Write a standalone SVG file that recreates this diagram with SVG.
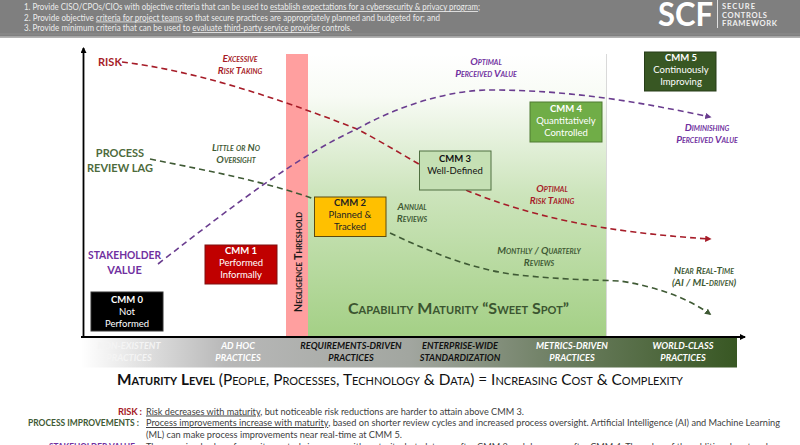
<svg xmlns="http://www.w3.org/2000/svg" width="800" height="445" viewBox="0 0 800 445">
<style>
text{font-family:"Lato","Carlito","Open Sans",sans-serif}
.hd{font-size:8.6px;fill:#ececec}
.box{stroke-width:1}
.cm{font-size:9.500px;text-anchor:middle}
.cb{font-weight:700}
.sc{font-style:italic;font-weight:700;font-variant:small-caps;font-size:10px;text-anchor:middle}
.lab{font-weight:700;font-size:11px;text-anchor:middle}
.band{font-style:italic;font-weight:700;font-size:9.200px;text-anchor:middle}
.c{fill:none;stroke-width:1.6;stroke-dasharray:6 4}
.bt{font-size:9.800px;fill:#404040}
.bl{font-size:9.400px;font-weight:700}
.lg{font-size:7.600px;font-weight:700;fill:#f0f0f0}
</style>
<defs>
<linearGradient id="sw" x1="0" y1="0" x2="0" y2="1"><stop offset="0" stop-color="#fff"/><stop offset="0.15" stop-color="#f8fbf5"/><stop offset="0.5" stop-color="#cce4bb"/><stop offset="1" stop-color="#a4d086"/></linearGradient>
<linearGradient id="bd" x1="0" y1="0" x2="1" y2="0"><stop offset="0" stop-color="#fff"/><stop offset="0.22" stop-color="#b8b8b8"/><stop offset="0.5" stop-color="#a2a6a0"/><stop offset="0.72" stop-color="#6f8064"/><stop offset="1" stop-color="#385723"/></linearGradient>
<marker id="ar" markerWidth="4" markerHeight="4" refX="3" refY="2" orient="auto"><path d="M0 0L4 2L0 4Z" fill="context-stroke"/></marker>
<marker id="ax" markerWidth="7" markerHeight="7" refX="5" refY="3" orient="auto" markerUnits="userSpaceOnUse"><path d="M0 0L6 3L0 6Z" fill="#000"/></marker>
</defs>
<rect width="800" height="445" fill="#fff"/>
<g id="header">
<rect width="800" height="37.500" fill="#7f7f7f"/><rect y="33.500" width="800" height="1" fill="#8e8e8e"/><rect y="36" width="800" height="1.500" fill="#a6a6a6"/>
<text class="hd" x="24" y="10" textLength="456" lengthAdjust="spacingAndGlyphs">1. Provide CISO/CPOs/CIOs with objective criteria that can be used to <tspan text-decoration="underline">establish expectations for a cybersecurity &amp; privacy program</tspan>;</text>
<text class="hd" x="24" y="20.500" textLength="416" lengthAdjust="spacingAndGlyphs">2. Provide objective <tspan text-decoration="underline">criteria for project teams</tspan> so that secure practices are appropriately planned and budgeted for; and</text>
<text class="hd" x="24" y="31" textLength="328" lengthAdjust="spacingAndGlyphs">3. Provide minimum criteria that can be used to <tspan text-decoration="underline">evaluate third-party service provider</tspan> controls.</text>
<text x="658" y="26" font-size="32" font-weight="700" fill="#fff" textLength="55" lengthAdjust="spacingAndGlyphs">SCF</text>
<rect x="717" y="0" width="1" height="28" fill="#e0e0e0"/>
<text class="lg" x="722" y="9" textLength="33">SECURE</text>
<text class="lg" x="722" y="17.500" textLength="45">CONTROLS</text>
<text class="lg" x="722" y="25.500" textLength="55">FRAMEWORK</text>
</g>
<g id="zones">
<rect x="308" y="54" width="298" height="282" fill="url(#sw)"/>
<rect x="286" y="54" width="22" height="282" fill="#ff9f9f"/>
<rect x="606" y="54" width="1" height="282" fill="#d9d9d9"/>
<text transform="translate(301.500 312) rotate(-90)" font-size="11" font-weight="700" font-variant="small-caps" fill="#1a1a1a" textLength="100" lengthAdjust="spacingAndGlyphs">Negligence Threshold</text>
<text x="348" y="314" font-size="16" font-weight="700" font-variant="small-caps" fill="#3b5530" textLength="221" lengthAdjust="spacingAndGlyphs">Capability Maturity “Sweet Spot”</text>
</g>
<g id="band">
<rect x="81" y="338" width="656" height="29.500" fill="url(#bd)"/>
<text class="band" fill="#f4f4f4"><tspan x="129" y="348.500">NON-EXISTENT</tspan><tspan x="129" y="360.500">PRACTICES</tspan></text>
<text class="band" fill="#fff"><tspan x="238" y="348.500">AD HOC</tspan><tspan x="238" y="360.500">PRACTICES</tspan></text>
<text class="band" fill="#111"><tspan x="351" y="348.500">REQUIREMENTS-DRIVEN</tspan><tspan x="351" y="360.500">PRACTICES</tspan></text>
<text class="band" fill="#111"><tspan x="460" y="348.500">ENTERPRISE-WIDE</tspan><tspan x="460" y="360.500">STANDARDIZATION</tspan></text>
<text class="band" fill="#fff"><tspan x="572" y="348.500">METRICS-DRIVEN</tspan><tspan x="572" y="360.500">PRACTICES</tspan></text>
<text class="band" fill="#fff"><tspan x="683" y="348.500">WORLD-CLASS</tspan><tspan x="683" y="360.500">PRACTICES</tspan></text>
</g>
<g id="connectors">
<path d="M83.500 337V48" stroke="#000" stroke-width="1.800" fill="none" marker-end="url(#ax)"/>
<path d="M81 337H745" stroke="#000" stroke-width="1.800" fill="none" marker-end="url(#ax)"/>
<path class="c" stroke="#a61c28" marker-end="url(#ar)" d="M122 62C190 70 270 95 357 129C390 146 430 172 468 191C530 216 600 232 710 239"/>
<path class="c" stroke="#3f5a35" d="M150 159C215 172 270 183 314 199"/>
<path class="c" stroke="#3f5a35" marker-end="url(#ar)" d="M390 233C430 252 470 268 510 274C560 280 600 280 620 281C660 287 690 300 710 314"/>
<path class="c" stroke="#6a3d8f" marker-end="url(#ar)" d="M158 264C240 200 300 155 357 129C400 105 450 90 490 90C570 90 640 102 710 117"/>
</g>
<g id="labels">
<text class="lab" x="110" y="66" fill="#a61c28" font-size="12">RISK</text>
<text class="lab" fill="#4d6b3c"><tspan x="120" y="157">PROCESS</tspan><tspan x="120" y="172">REVIEW LAG</tspan></text>
<text class="lab" fill="#7030a0"><tspan x="124.500" y="259" textLength="73" lengthAdjust="spacingAndGlyphs">STAKEHOLDER</tspan><tspan x="124.500" y="274">VALUE</tspan></text>
<text class="sc" fill="#a61c28"><tspan x="240" y="62">Excessive</tspan><tspan x="240" y="74">Risk Taking</tspan></text>
<text class="sc" fill="#3f5a35"><tspan x="236" y="151">Little or No</tspan><tspan x="236" y="163">Oversight</tspan></text>
<text class="sc" fill="#7030a0"><tspan x="486" y="65">Optimal</tspan><tspan x="486" y="77">Perceived Value</tspan></text>
<text class="sc" fill="#3f5a35"><tspan x="412" y="210">Annual</tspan><tspan x="412" y="222">Reviews</tspan></text>
<text class="sc" fill="#a61c28"><tspan x="552" y="192">Optimal</tspan><tspan x="552" y="204">Risk Taking</tspan></text>
<text class="sc" fill="#3f5a35"><tspan x="539" y="254">Monthly / Quarterly</tspan><tspan x="539" y="266">Reviews</tspan></text>
<text class="sc" fill="#7030a0"><tspan x="707" y="131">Diminishing</tspan><tspan x="707" y="143">Perceived Value</tspan></text>
<text class="sc" fill="#3f5a35"><tspan x="704" y="274">Near Real-Time</tspan><tspan x="704" y="286">(AI / ML-driven)</tspan></text>
</g>
<g id="cmm0"><rect class="box" x="91" y="292" width="72" height="39" fill="#000" stroke="#333"/><text class="cm" fill="#fff"><tspan class="cb" x="127" y="303">CMM 0</tspan><tspan x="127" y="315">Not</tspan><tspan x="127" y="327">Performed</tspan></text></g>
<g id="cmm1"><rect class="box" x="205" y="245" width="72" height="39" fill="#c00000" stroke="#7f1010"/><text class="cm" fill="#fff"><tspan class="cb" x="241" y="254">CMM 1</tspan><tspan x="241" y="266">Performed</tspan><tspan x="241" y="278">Informally</tspan></text></g>
<g id="cmm2"><rect class="box" x="314.500" y="197" width="71.500" height="39.500" fill="#ffc000" stroke="#5c4a10"/><text class="cm" fill="#222"><tspan class="cb" x="350" y="205.500">CMM 2</tspan><tspan x="350" y="217.500">Planned &amp;</tspan><tspan x="350" y="229.500">Tracked</tspan></text></g>
<g id="cmm3"><rect class="box" x="419.500" y="151" width="71.500" height="39" fill="#c5e0b4" stroke="#4f6f40"/><text class="cm" fill="#111"><tspan class="cb" x="455" y="161.500">CMM 3</tspan><tspan x="455" y="173.500">Well-Defined</tspan></text></g>
<g id="cmm4"><rect class="box" x="530" y="102" width="72" height="40" fill="#70ad47" stroke="#4f7a32"/><text class="cm" fill="#fff"><tspan class="cb" x="566" y="111.500">CMM 4</tspan><tspan x="566" y="123.500">Quantitatively</tspan><tspan x="566" y="135.500">Controlled</tspan></text></g>
<g id="cmm5"><rect class="box" x="644.500" y="52" width="71.500" height="39" fill="#385723" stroke="#263d18"/><text class="cm" fill="#fff"><tspan class="cb" x="681" y="60.500">CMM 5</tspan><tspan x="681" y="72.500">Continuously</tspan><tspan x="681" y="84.500">Improving</tspan></text></g>
<g id="footer">
<text x="117" y="385" font-size="15.400" font-variant="small-caps" fill="#111" textLength="566" lengthAdjust="spacingAndGlyphs"><tspan font-weight="700">Maturity Level</tspan> (People, Processes, Technology &amp; Data) = Increasing Cost &amp; Complexity</text>
<text class="bl" x="118" y="414.500" fill="#a61c28" textLength="24">RISK :</text>
<text class="bt" x="146" y="414.500" textLength="378" lengthAdjust="spacingAndGlyphs"><tspan text-decoration="underline">Risk decreases with maturity</tspan>, but noticeable risk reductions are harder to attain above CMM 3.</text>
<text class="bl" x="28" y="426" fill="#3f5a35" textLength="111" lengthAdjust="spacingAndGlyphs">PROCESS IMPROVEMENTS :</text>
<text class="bt" x="146" y="426" textLength="634" lengthAdjust="spacingAndGlyphs"><tspan text-decoration="underline">Process improvements increase with maturity</tspan>, based on shorter review cycles and increased process oversight. Artificial Intelligence (AI) and Machine Learning</text>
<text class="bt" x="146" y="438" textLength="256" lengthAdjust="spacingAndGlyphs">(ML) can make process improvements near real-time at CMM 5.</text>
<text class="bl" x="49" y="449.500" fill="#7030a0" textLength="90" lengthAdjust="spacingAndGlyphs">STAKEHOLDER VALUE :</text>
<text class="bt" x="146" y="449.500" textLength="622" lengthAdjust="spacingAndGlyphs">The perceived value of security controls increases with maturity, but plateaus after CMM 3 and decreases after CMM 4. The value of the additional cost and</text>
</g>
</svg>
